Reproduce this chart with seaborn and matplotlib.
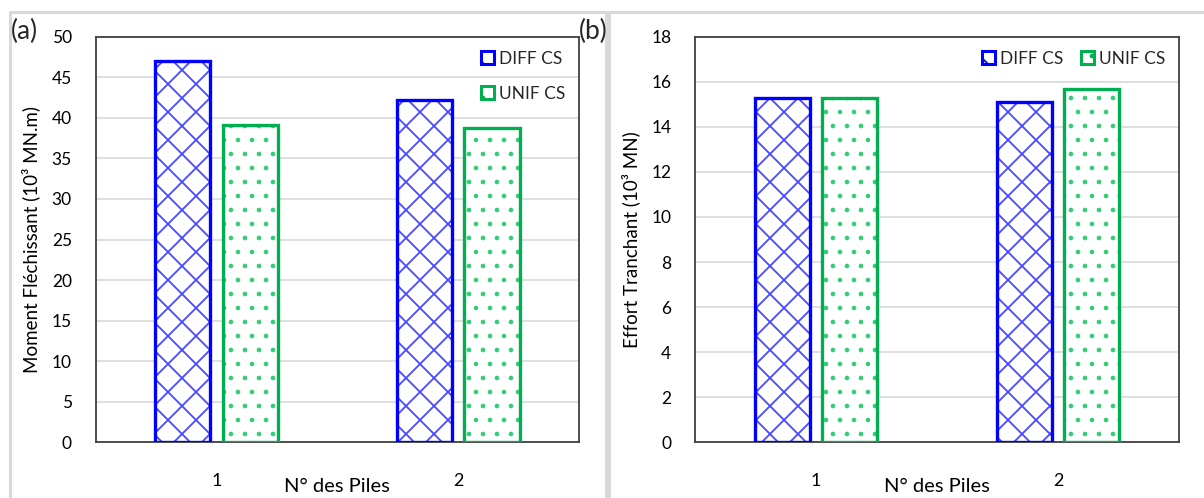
import matplotlib
matplotlib.use("Agg")
import matplotlib.pyplot as plt
import seaborn as sns
import pandas as pd
from matplotlib.patches import Patch, Rectangle

# ---- data ----
piles = ["1", "2"]
series = ["DIFF CS", "UNIF CS"]
moment_diff = [47.0, 42.2]
moment_unif = [39.1, 38.7]
effort_diff = [15.3, 15.1]
effort_unif = [15.3, 15.7]

DPI = 84
S = 100 / DPI  # keep sizes as if at 100 dpi

sns.set_theme(style="white")
plt.rcParams['font.family'] = ['Lato', 'DejaVu Sans']
plt.rcParams['hatch.linewidth'] = 1.3 * S

blue = "#0000FF"
blue_h = "#4A4AFF"
green = "#00B050"
green_h = "#33CC77"
hatches = {"DIFF CS": "x", "UNIF CS": "."}
edge = {"DIFF CS": blue, "UNIF CS": green}
hcol = {"DIFF CS": blue_h, "UNIF CS": green_h}

fig = plt.figure(figsize=(1204 / DPI, 498 / DPI), dpi=DPI)
ax1 = fig.add_axes([95.5/1204, 1-442.3/498, 483.5/1204, 405.6/498])
ax2 = fig.add_axes([695/1204, 1-442.3/498, 484/1204, 405.6/498])

def make_df(d, u):
    return pd.DataFrame({
        "pile": piles * 2,
        "serie": [series[0]] * 2 + [series[1]] * 2,
        "val": list(d) + list(u),
    })

def draw(ax, df, ymax, ystep, ylabel, legend_ncol):
    # hatch layer
    sns.barplot(data=df, x="pile", y="val", hue="serie", hue_order=series,
                order=piles, ax=ax, width=0.56, gap=0.185, legend=False,
                palette=["white", "white"], saturation=1, linewidth=0, zorder=3)
    for cont, s in zip(ax.containers, series):
        for p in cont:
            p.set_facecolor("white")
            p.set_edgecolor(hcol[s])
            p.set_hatch(hatches[s])
            p.set_linewidth(0)
    n = len(ax.containers)
    # outline layer
    sns.barplot(data=df, x="pile", y="val", hue="serie", hue_order=series,
                order=piles, ax=ax, width=0.56, gap=0.185, legend=False,
                fill=False, palette=[blue, green], saturation=1,
                linewidth=2.4 * S, zorder=4)
    for cont, s in zip(ax.containers[n:], series):
        for p in cont:
            p.set_edgecolor(edge[s])
            p.set_linewidth(2.4 * S)
            p.set_zorder(4)
    ax.set_ylim(0, ymax)
    ax.set_yticks(range(0, ymax + 1, ystep))
    ax.grid(axis="y", color="#D9D9D9", linewidth=1.2 * S, zorder=0)
    ax.set_axisbelow(True)
    for sp in ax.spines.values():
        sp.set_visible(True)
        sp.set_color("#404040")
        sp.set_linewidth(1.3 * S)
    ax.tick_params(axis="y", length=0, pad=17 * S, labelsize=12.5 * S,
                   labelcolor="#000000")
    ax.tick_params(axis="x", length=0, pad=22 * S, labelsize=13 * S,
                   labelcolor="#000000")
    ax.set_xlabel("N° des Piles", fontsize=14.5 * S, color="black",
                  labelpad=-8 * S)
    ax.set_ylabel(ylabel, fontsize=13.5 * S, color="black", labelpad=8 * S)
    handles = [Patch(facecolor="white", edgecolor=edge[s], hatch=hatches[s],
                     linewidth=2.2 * S, label=s) for s in series]
    ax.legend(handles=handles, loc="upper right", ncol=legend_ncol,
              frameon=False, fontsize=12.5 * S, handlelength=0.75,
              handleheight=0.75, handletextpad=0.3, columnspacing=1.0,
              labelspacing=1.1, borderaxespad=0.4)

draw(ax1, make_df(moment_diff, moment_unif), 50, 5,
     "Moment Fléchissant (10³ MN.m)", 1)
draw(ax2, make_df(effort_diff, effort_unif), 18, 2,
     "Effort Tranchant (10³ MN)", 2)

# panel frames
fig.patches.append(Rectangle((10/1204, -0.05), 596/1204, 1.05 - 12/498,
                             transform=fig.transFigure, fill=False,
                             edgecolor="#D9D9D9", linewidth=2.2 * S))
fig.patches.append(Rectangle((609/1204, -0.05), 0.6, 1.05 - 12/498,
                             transform=fig.transFigure, fill=False,
                             edgecolor="#D9D9D9", linewidth=2.2 * S))

fig.text(11/1204, 1-31/498, "(a)", fontsize=19 * S, va="center", ha="left")
fig.text(579/1204, 1-31/498, "(b)", fontsize=19 * S, va="center", ha="left")

fig.savefig("out.png", dpi=DPI, facecolor="white")
